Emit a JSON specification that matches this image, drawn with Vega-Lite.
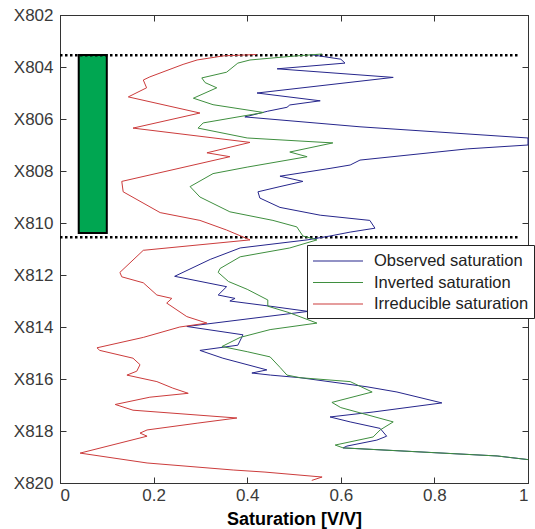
{
  "$schema": "https://vega.github.io/schema/vega-lite/v6.json",
  "width": 468,
  "height": 468,
  "autosize": {"type": "none"},
  "padding": {"left": 60, "top": 15, "right": 7, "bottom": 46},
  "background": "white",
  "config": {
    "view": {"stroke": "#333", "strokeWidth": 1},
    "font": "Liberation Sans",
    "axis": {"grid": false, "domainColor": "#333", "tickColor": "#333", "labelColor": "#3a3a3a", "labelFontSize": 17, "labelFont": "Liberation Sans"}
  },
  "datasets": {
    "lines": [
      {"s": "Observed saturation", "i": 1, "d": 803.52, "v": 0.534},
      {"s": "Observed saturation", "i": 2, "d": 803.7, "v": 0.6},
      {"s": "Observed saturation", "i": 3, "d": 803.85, "v": 0.609},
      {"s": "Observed saturation", "i": 4, "d": 804.07, "v": 0.464},
      {"s": "Observed saturation", "i": 5, "d": 804.4, "v": 0.712},
      {"s": "Observed saturation", "i": 6, "d": 805.0, "v": 0.421},
      {"s": "Observed saturation", "i": 7, "d": 805.3, "v": 0.556},
      {"s": "Observed saturation", "i": 8, "d": 805.46, "v": 0.491},
      {"s": "Observed saturation", "i": 9, "d": 805.55, "v": 0.485},
      {"s": "Observed saturation", "i": 10, "d": 805.7, "v": 0.444},
      {"s": "Observed saturation", "i": 11, "d": 805.92, "v": 0.395},
      {"s": "Observed saturation", "i": 12, "d": 806.3, "v": 0.641},
      {"s": "Observed saturation", "i": 13, "d": 806.73, "v": 1.0},
      {"s": "Observed saturation", "i": 14, "d": 807.0, "v": 1.0},
      {"s": "Observed saturation", "i": 15, "d": 807.15, "v": 0.87},
      {"s": "Observed saturation", "i": 16, "d": 807.58, "v": 0.641},
      {"s": "Observed saturation", "i": 17, "d": 807.77, "v": 0.62},
      {"s": "Observed saturation", "i": 18, "d": 807.9, "v": 0.577},
      {"s": "Observed saturation", "i": 19, "d": 808.2, "v": 0.47},
      {"s": "Observed saturation", "i": 20, "d": 808.4, "v": 0.519},
      {"s": "Observed saturation", "i": 21, "d": 808.6, "v": 0.47},
      {"s": "Observed saturation", "i": 22, "d": 808.8, "v": 0.423},
      {"s": "Observed saturation", "i": 23, "d": 809.04, "v": 0.427},
      {"s": "Observed saturation", "i": 24, "d": 809.4, "v": 0.47},
      {"s": "Observed saturation", "i": 25, "d": 809.7, "v": 0.556},
      {"s": "Observed saturation", "i": 26, "d": 809.9, "v": 0.662},
      {"s": "Observed saturation", "i": 27, "d": 810.2, "v": 0.673},
      {"s": "Observed saturation", "i": 28, "d": 810.35, "v": 0.62},
      {"s": "Observed saturation", "i": 29, "d": 810.5, "v": 0.577},
      {"s": "Observed saturation", "i": 30, "d": 810.65, "v": 0.528},
      {"s": "Observed saturation", "i": 31, "d": 810.96, "v": 0.385},
      {"s": "Observed saturation", "i": 32, "d": 811.4, "v": 0.321},
      {"s": "Observed saturation", "i": 33, "d": 812.05, "v": 0.245},
      {"s": "Observed saturation", "i": 34, "d": 812.45, "v": 0.356},
      {"s": "Observed saturation", "i": 35, "d": 812.77, "v": 0.338},
      {"s": "Observed saturation", "i": 36, "d": 812.9, "v": 0.374},
      {"s": "Observed saturation", "i": 37, "d": 813.0, "v": 0.363},
      {"s": "Observed saturation", "i": 38, "d": 813.2, "v": 0.449},
      {"s": "Observed saturation", "i": 39, "d": 813.4, "v": 0.53},
      {"s": "Observed saturation", "i": 40, "d": 813.98, "v": 0.271},
      {"s": "Observed saturation", "i": 41, "d": 814.3, "v": 0.391},
      {"s": "Observed saturation", "i": 42, "d": 814.7, "v": 0.38},
      {"s": "Observed saturation", "i": 43, "d": 814.9, "v": 0.299},
      {"s": "Observed saturation", "i": 44, "d": 815.2, "v": 0.348},
      {"s": "Observed saturation", "i": 45, "d": 815.65, "v": 0.442},
      {"s": "Observed saturation", "i": 46, "d": 815.77, "v": 0.41},
      {"s": "Observed saturation", "i": 47, "d": 815.85, "v": 0.45},
      {"s": "Observed saturation", "i": 48, "d": 815.95, "v": 0.513},
      {"s": "Observed saturation", "i": 49, "d": 816.3, "v": 0.656},
      {"s": "Observed saturation", "i": 50, "d": 816.5, "v": 0.72},
      {"s": "Observed saturation", "i": 51, "d": 816.92, "v": 0.816},
      {"s": "Observed saturation", "i": 52, "d": 817.27, "v": 0.669},
      {"s": "Observed saturation", "i": 53, "d": 817.46, "v": 0.577},
      {"s": "Observed saturation", "i": 54, "d": 817.65, "v": 0.62},
      {"s": "Observed saturation", "i": 55, "d": 817.9, "v": 0.684},
      {"s": "Observed saturation", "i": 56, "d": 818.2, "v": 0.698},
      {"s": "Observed saturation", "i": 57, "d": 818.35, "v": 0.677},
      {"s": "Observed saturation", "i": 58, "d": 818.58, "v": 0.613},
      {"s": "Observed saturation", "i": 59, "d": 818.65, "v": 0.605},
      {"s": "Observed saturation", "i": 60, "d": 818.96, "v": 0.934},
      {"s": "Observed saturation", "i": 61, "d": 819.1, "v": 1.0},

      {"s": "Inverted saturation", "i": 1, "d": 803.5, "v": 0.56},
      {"s": "Inverted saturation", "i": 2, "d": 803.58, "v": 0.5},
      {"s": "Inverted saturation", "i": 3, "d": 803.73, "v": 0.406},
      {"s": "Inverted saturation", "i": 4, "d": 803.85, "v": 0.38},
      {"s": "Inverted saturation", "i": 5, "d": 804.2, "v": 0.356},
      {"s": "Inverted saturation", "i": 6, "d": 804.42, "v": 0.303},
      {"s": "Inverted saturation", "i": 7, "d": 804.6, "v": 0.31},
      {"s": "Inverted saturation", "i": 8, "d": 804.8, "v": 0.335},
      {"s": "Inverted saturation", "i": 9, "d": 805.2, "v": 0.285},
      {"s": "Inverted saturation", "i": 10, "d": 805.45, "v": 0.327},
      {"s": "Inverted saturation", "i": 11, "d": 805.75, "v": 0.435},
      {"s": "Inverted saturation", "i": 12, "d": 806.15, "v": 0.306},
      {"s": "Inverted saturation", "i": 13, "d": 806.35, "v": 0.295},
      {"s": "Inverted saturation", "i": 14, "d": 806.73, "v": 0.4},
      {"s": "Inverted saturation", "i": 15, "d": 806.92, "v": 0.583},
      {"s": "Inverted saturation", "i": 16, "d": 807.27, "v": 0.491},
      {"s": "Inverted saturation", "i": 17, "d": 807.45, "v": 0.528},
      {"s": "Inverted saturation", "i": 18, "d": 807.85, "v": 0.4},
      {"s": "Inverted saturation", "i": 19, "d": 808.1, "v": 0.327},
      {"s": "Inverted saturation", "i": 20, "d": 808.6, "v": 0.278},
      {"s": "Inverted saturation", "i": 21, "d": 809.0, "v": 0.299},
      {"s": "Inverted saturation", "i": 22, "d": 809.57, "v": 0.363},
      {"s": "Inverted saturation", "i": 23, "d": 809.9, "v": 0.455},
      {"s": "Inverted saturation", "i": 24, "d": 810.15, "v": 0.506},
      {"s": "Inverted saturation", "i": 25, "d": 810.5, "v": 0.519},
      {"s": "Inverted saturation", "i": 26, "d": 810.65, "v": 0.549},
      {"s": "Inverted saturation", "i": 27, "d": 810.96, "v": 0.491},
      {"s": "Inverted saturation", "i": 28, "d": 811.3, "v": 0.385},
      {"s": "Inverted saturation", "i": 29, "d": 811.75, "v": 0.342},
      {"s": "Inverted saturation", "i": 30, "d": 811.9, "v": 0.338},
      {"s": "Inverted saturation", "i": 31, "d": 812.25, "v": 0.36},
      {"s": "Inverted saturation", "i": 32, "d": 812.55, "v": 0.4},
      {"s": "Inverted saturation", "i": 33, "d": 812.96, "v": 0.444},
      {"s": "Inverted saturation", "i": 34, "d": 813.2, "v": 0.444},
      {"s": "Inverted saturation", "i": 35, "d": 813.45, "v": 0.49},
      {"s": "Inverted saturation", "i": 36, "d": 813.85, "v": 0.549},
      {"s": "Inverted saturation", "i": 37, "d": 814.1, "v": 0.449},
      {"s": "Inverted saturation", "i": 38, "d": 814.4, "v": 0.385},
      {"s": "Inverted saturation", "i": 39, "d": 814.75, "v": 0.346},
      {"s": "Inverted saturation", "i": 40, "d": 814.95, "v": 0.4},
      {"s": "Inverted saturation", "i": 41, "d": 815.15, "v": 0.449},
      {"s": "Inverted saturation", "i": 42, "d": 815.55, "v": 0.47},
      {"s": "Inverted saturation", "i": 43, "d": 815.85, "v": 0.485},
      {"s": "Inverted saturation", "i": 44, "d": 815.95, "v": 0.513},
      {"s": "Inverted saturation", "i": 45, "d": 816.1, "v": 0.62},
      {"s": "Inverted saturation", "i": 46, "d": 816.5, "v": 0.667},
      {"s": "Inverted saturation", "i": 47, "d": 816.9, "v": 0.581},
      {"s": "Inverted saturation", "i": 48, "d": 817.1, "v": 0.6},
      {"s": "Inverted saturation", "i": 49, "d": 817.65, "v": 0.712},
      {"s": "Inverted saturation", "i": 50, "d": 817.96, "v": 0.684},
      {"s": "Inverted saturation", "i": 51, "d": 818.23, "v": 0.669},
      {"s": "Inverted saturation", "i": 52, "d": 818.54, "v": 0.588},
      {"s": "Inverted saturation", "i": 53, "d": 818.65, "v": 0.605},
      {"s": "Inverted saturation", "i": 54, "d": 818.96, "v": 0.934},
      {"s": "Inverted saturation", "i": 55, "d": 819.1, "v": 1.0},

      {"s": "Irreducible saturation", "i": 1, "d": 803.52, "v": 0.42},
      {"s": "Irreducible saturation", "i": 2, "d": 803.57, "v": 0.35},
      {"s": "Irreducible saturation", "i": 3, "d": 803.73, "v": 0.293},
      {"s": "Irreducible saturation", "i": 4, "d": 803.9, "v": 0.263},
      {"s": "Irreducible saturation", "i": 5, "d": 804.38, "v": 0.192},
      {"s": "Irreducible saturation", "i": 6, "d": 804.5, "v": 0.178},
      {"s": "Irreducible saturation", "i": 7, "d": 804.8, "v": 0.185},
      {"s": "Irreducible saturation", "i": 8, "d": 805.15, "v": 0.146},
      {"s": "Irreducible saturation", "i": 9, "d": 805.77, "v": 0.299},
      {"s": "Irreducible saturation", "i": 10, "d": 806.35, "v": 0.156},
      {"s": "Irreducible saturation", "i": 11, "d": 806.9, "v": 0.406},
      {"s": "Irreducible saturation", "i": 12, "d": 807.3, "v": 0.314},
      {"s": "Irreducible saturation", "i": 13, "d": 807.45, "v": 0.363},
      {"s": "Irreducible saturation", "i": 14, "d": 808.4, "v": 0.132},
      {"s": "Irreducible saturation", "i": 15, "d": 808.8, "v": 0.135},
      {"s": "Irreducible saturation", "i": 16, "d": 809.6, "v": 0.214},
      {"s": "Irreducible saturation", "i": 17, "d": 809.9, "v": 0.299},
      {"s": "Irreducible saturation", "i": 18, "d": 810.27, "v": 0.356},
      {"s": "Irreducible saturation", "i": 19, "d": 810.65, "v": 0.406},
      {"s": "Irreducible saturation", "i": 20, "d": 811.05, "v": 0.178},
      {"s": "Irreducible saturation", "i": 21, "d": 811.9, "v": 0.128},
      {"s": "Irreducible saturation", "i": 22, "d": 812.07, "v": 0.132},
      {"s": "Irreducible saturation", "i": 23, "d": 812.3, "v": 0.178},
      {"s": "Irreducible saturation", "i": 24, "d": 812.77, "v": 0.207},
      {"s": "Irreducible saturation", "i": 25, "d": 812.9, "v": 0.239},
      {"s": "Irreducible saturation", "i": 26, "d": 813.08, "v": 0.228},
      {"s": "Irreducible saturation", "i": 27, "d": 813.6, "v": 0.271},
      {"s": "Irreducible saturation", "i": 28, "d": 813.85, "v": 0.314},
      {"s": "Irreducible saturation", "i": 29, "d": 814.0, "v": 0.256},
      {"s": "Irreducible saturation", "i": 30, "d": 814.4, "v": 0.178},
      {"s": "Irreducible saturation", "i": 31, "d": 814.8, "v": 0.079},
      {"s": "Irreducible saturation", "i": 32, "d": 814.9, "v": 0.085},
      {"s": "Irreducible saturation", "i": 33, "d": 815.2, "v": 0.156},
      {"s": "Irreducible saturation", "i": 34, "d": 815.45, "v": 0.171},
      {"s": "Irreducible saturation", "i": 35, "d": 815.7, "v": 0.164},
      {"s": "Irreducible saturation", "i": 36, "d": 815.85, "v": 0.143},
      {"s": "Irreducible saturation", "i": 37, "d": 816.1, "v": 0.207},
      {"s": "Irreducible saturation", "i": 38, "d": 816.35, "v": 0.241},
      {"s": "Irreducible saturation", "i": 39, "d": 816.55, "v": 0.274},
      {"s": "Irreducible saturation", "i": 40, "d": 816.7, "v": 0.192},
      {"s": "Irreducible saturation", "i": 41, "d": 816.98, "v": 0.118},
      {"s": "Irreducible saturation", "i": 42, "d": 817.2, "v": 0.156},
      {"s": "Irreducible saturation", "i": 43, "d": 817.5, "v": 0.378},
      {"s": "Irreducible saturation", "i": 44, "d": 817.7, "v": 0.293},
      {"s": "Irreducible saturation", "i": 45, "d": 817.96, "v": 0.186},
      {"s": "Irreducible saturation", "i": 46, "d": 818.08, "v": 0.171},
      {"s": "Irreducible saturation", "i": 47, "d": 818.2, "v": 0.186},
      {"s": "Irreducible saturation", "i": 48, "d": 818.85, "v": 0.043},
      {"s": "Irreducible saturation", "i": 49, "d": 819.23, "v": 0.186},
      {"s": "Irreducible saturation", "i": 50, "d": 819.5, "v": 0.37},
      {"s": "Irreducible saturation", "i": 51, "d": 819.58, "v": 0.438},
      {"s": "Irreducible saturation", "i": 52, "d": 819.77, "v": 0.56},
      {"s": "Irreducible saturation", "i": 53, "d": 819.9, "v": 0.538}
    ],
    "zone": [{"x1": 0.04, "x2": 0.1, "y1": 803.54, "y2": 810.38}],
    "limits": [{"y": 803.55, "x1": 0, "x2": 0.979}, {"y": 810.55, "x1": 0, "x2": 0.979}]
  },
  "layer": [
    {
      "data": {"name": "zone"},
      "mark": {"type": "rect", "fill": "#00a651", "stroke": "black", "strokeWidth": 2},
      "encoding": {
        "x": {"field": "x1", "type": "quantitative", "scale": {"domain": [0, 1], "nice": false, "zero": false},
          "axis": {"orient": "bottom", "values": [0, 0.2, 0.4, 0.6, 0.8, 1], "format": "~g", "tickSize": -6, "labelPadding": 10,
            "title": "Saturation [V/V]", "titleFontSize": 18, "titleFont": "Liberation Sans", "titleFontWeight": "bold", "titleColor": "black",
            "titleY": 41, "titleBaseline": "alphabetic"}},
        "x2": {"field": "x2"},
        "y": {"field": "y1", "type": "quantitative", "scale": {"domain": [802, 820], "reverse": true, "nice": false, "zero": false},
          "axis": {"orient": "left", "values": [802, 804, 806, 808, 810, 812, 814, 816, 818, 820], "labelExpr": "'X' + datum.value", "tickSize": -6, "labelPadding": 13, "title": null}},
        "y2": {"field": "y2"}
      }
    },
    {
      "data": {"name": "limits"},
      "mark": {"type": "rule", "color": "black", "strokeWidth": 2.5, "strokeDash": [2.5, 2.5]},
      "encoding": {
        "y": {"field": "y", "type": "quantitative", "axis": null},
        "x": {"field": "x1", "type": "quantitative", "axis": {"orient": "top", "values": [0, 0.2, 0.4, 0.6, 0.8, 1], "labels": false, "tickSize": -6, "title": null}},
        "x2": {"field": "x2"}
      }
    },
    {
      "data": {"name": "lines"},
      "mark": {"type": "line", "strokeWidth": 1, "interpolate": "linear"},
      "encoding": {
        "x": {"field": "v", "type": "quantitative", "axis": null},
        "y": {"field": "d", "type": "quantitative", "axis": {"orient": "right", "values": [802, 804, 806, 808, 810, 812, 814, 816, 818, 820], "labels": false, "tickSize": -6, "title": null}},
        "order": {"field": "i", "type": "quantitative"},
        "color": {"field": "s", "type": "nominal",
          "scale": {"domain": ["Observed saturation", "Inverted saturation", "Irreducible saturation"], "range": ["#26268c", "#3f8f3f", "#cc3c3c"]},
          "legend": {"title": null, "orient": "none", "legendX": 247, "legendY": 230, "fillColor": "white", "strokeColor": "#222",
            "symbolType": "M-2.5,0H2.5", "symbolSize": 400, "symbolOffset": 15, "symbolStrokeWidth": 1.2, "labelFontSize": 16.5, "labelColor": "#222", "labelFont": "Liberation Sans",
            "padding": 5, "rowPadding": 1.5, "labelOffset": 25}}
      }
    }
  ],
  "resolve": {"axis": {"x": "independent", "y": "independent"}}
}
